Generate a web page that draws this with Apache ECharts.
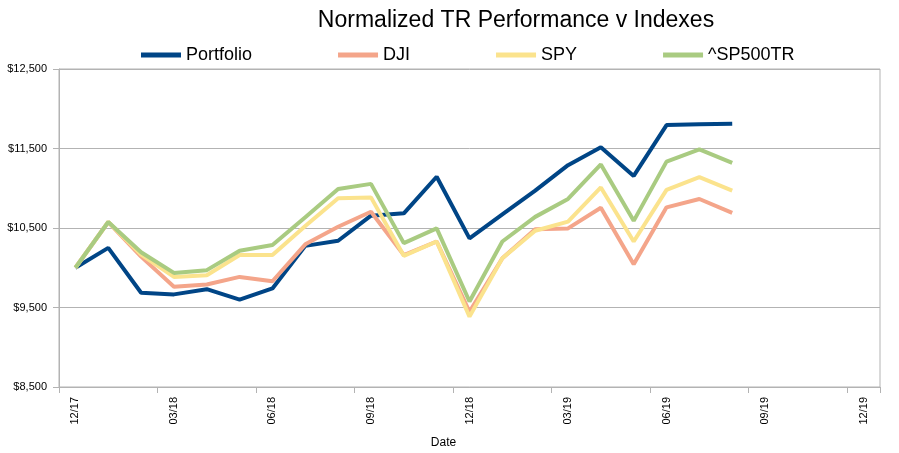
<!DOCTYPE html>
<html>
<head>
<meta charset="utf-8">
<script src="https://cdn.jsdelivr.net/npm/echarts@6/dist/echarts.min.js"></script>
<style>
html,body{margin:0;padding:0;background:#fff;}
#chart{width:899px;height:453px;}
</style>
</head>
<body>
<div id="chart"></div>
<script>
var categories = ['12/17','01/18','02/18','03/18','04/18','05/18','06/18','07/18','08/18','09/18','10/18','11/18','12/18','01/19','02/19','03/19','04/19','05/19','06/19','07/19','08/19','09/19','10/19','11/19','12/19'];
var portfolio = [10000,10250,9685,9665,9730,9600,9740,10275,10340,10655,10685,11145,10370,10670,10970,11290,11515,11155,11795,11805,11812,null,null,null,null];
var dji       = [10000,10575,10140,9760,9790,9885,9830,10295,10515,10705,10160,10330,9445,10120,10485,10495,10755,10045,10760,10865,10690,null,null,null,null];
var spy       = [10000,10575,10165,9885,9905,10160,10160,10525,10875,10885,10150,10330,9385,10120,10465,10580,11010,10330,10980,11140,10970,null,null,null,null];
var sp500tr   = [10000,10575,10195,9935,9970,10215,10285,10635,10990,11055,10310,10495,9575,10330,10640,10865,11300,10590,11335,11490,11320,null,null,null,null];
var seriesNames = ['Portfolio','DJI','SPY','^SP500TR'];
var colors = ['#004586','#f4a58a','#fbe38d','#a9cb81'];

var chart = echarts.init(document.getElementById('chart'), null, {renderer:'canvas'});
var allData = [portfolio, dji, spy, sp500tr];
var series = seriesNames.map(function(n, i){
  return {
    name: n, type: 'line', data: allData[i],
    showSymbol: false, symbol: 'none',
    lineStyle: {width: 4, color: colors[i]},
    itemStyle: {color: colors[i]},
    connectNulls: false
  };
});
chart.setOption({
  animation: false,
  backgroundColor: '#ffffff',
  title: {
    text: 'Normalized TR Performance v Indexes',
    left: 516, top: 9, textAlign: 'center', padding: 0,
    textStyle: {fontFamily: 'Liberation Sans', fontSize: 23, fontWeight: 'normal', color: '#000'}
  },
  legend: {
    left: 141, top: 46, padding: 0,
    icon: 'rect', itemWidth: 40, itemHeight: 5, itemGap: 86,
    textStyle: {fontFamily: 'Liberation Sans', fontSize: 18, color: '#000'},
    data: seriesNames
  },
  grid: {left: 59, right: 19, top: 69, bottom: 66, containLabel: false, outerBoundsMode: 'none',
    show: true, borderColor: '#b3b3b3', borderWidth: 1},
  xAxis: {
    type: 'category', data: categories, boundaryGap: true,
    name: 'Date', nameLocation: 'middle', nameGap: 50,
    nameTextStyle: {fontFamily: 'Liberation Sans', fontSize: 12, color: '#000', padding: [0, 52, 0, 0]},
    axisLine: {lineStyle: {color: '#b3b3b3'}},
    axisTick: {show: true, interval: 2, length: 6, lineStyle: {color: '#b3b3b3'}},
    axisLabel: {interval: 2, rotate: 90, margin: 10, fontFamily: 'Liberation Sans', fontSize: 11, color: '#000'},
    splitLine: {show: false}
  },
  yAxis: {
    type: 'value', min: 8500, max: 12500, interval: 1000,
    name: 'Value', nameLocation: 'middle', nameGap: 53,
    nameTextStyle: {fontFamily: 'Liberation Sans', fontSize: 11, color: '#000'},
    axisLine: {show: true, lineStyle: {color: '#b3b3b3'}},
    axisTick: {show: true, length: 6, lineStyle: {color: '#b3b3b3'}},
    axisLabel: {margin: 12, fontFamily: 'Liberation Sans', fontSize: 11, color: '#000',
      formatter: function(v){ return '$' + v.toLocaleString('en-US'); }},
    splitLine: {show: true, lineStyle: {color: '#b3b3b3', width: 1}}
  },
  series: series
});
</script>
</body>
</html>
